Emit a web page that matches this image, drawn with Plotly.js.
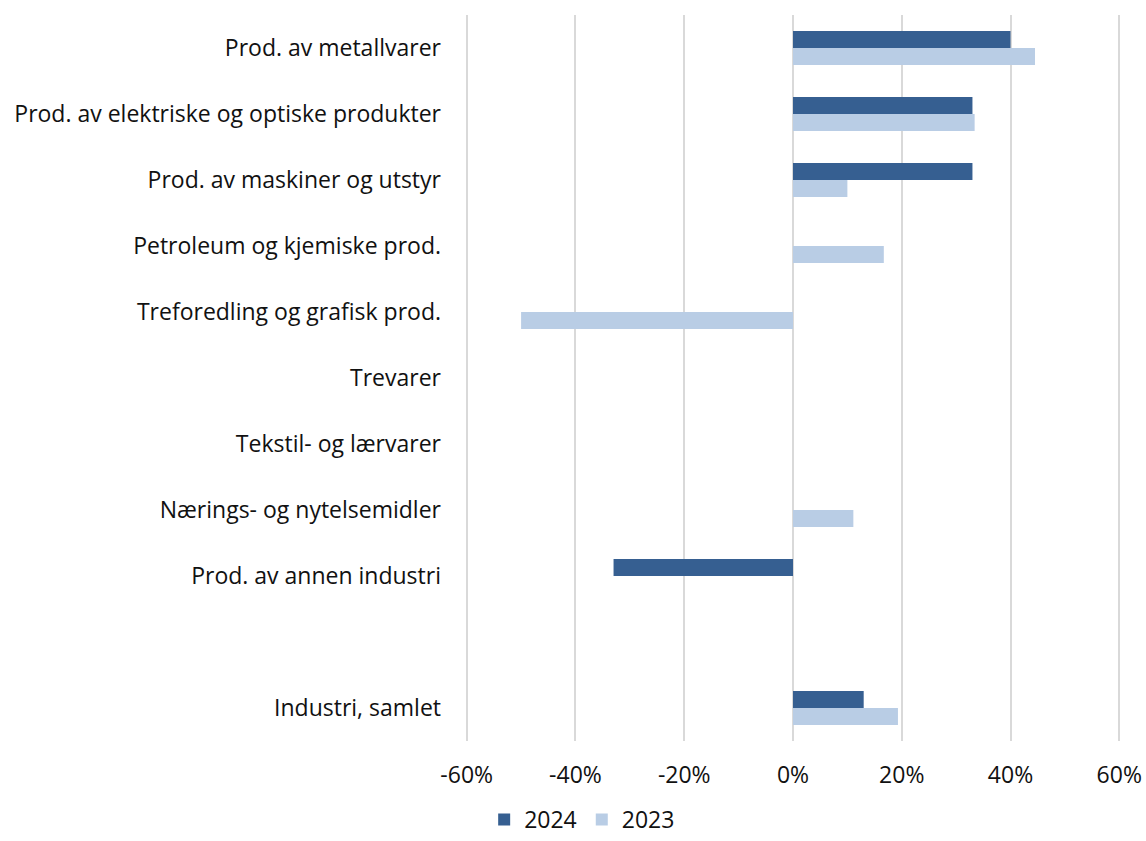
<!DOCTYPE html>
<html>
<head>
<meta charset="utf-8">
<script src="https://cdn.plot.ly/plotly-3.0.1.min.js"></script>
<style>html,body{margin:0;padding:0;background:#fff;}#chart{width:1146px;height:841px;}</style>
</head>
<body>
<div id="chart"></div>
<script>
const categories = [
  "Prod. av metallvarer",
  "Prod. av elektriske og optiske produkter",
  "Prod. av maskiner og utstyr",
  "Petroleum og kjemiske prod.",
  "Treforedling og grafisk prod.",
  "Trevarer",
  "Tekstil- og lærvarer",
  "Nærings- og nytelsemidler",
  "Prod. av annen industri",
  " ",
  "Industri, samlet"
];
const values2024 = [0.40, 0.33, 0.33, 0, null, null, null, 0, -0.33, null, 0.13];
const values2023 = [0.445, 0.334, 0.10, 0.167, -0.50, null, null, 0.111, 0, null, 0.193];
const tickValues = [-0.6, -0.4, -0.2, 0, 0.2, 0.4, 0.6];
const tickLabels = ["-60%", "-40%", "-20%", "0%", "20%", "40%", "60%"];

const fontFam = "'Open Sans', Lato, sans-serif";
const traces = [
  {type: "bar", orientation: "h", name: "2024", y: categories, x: values2024,
   marker: {color: "#365F91"}, hoverinfo: "x+y"},
  {type: "bar", orientation: "h", name: "2023", y: categories, x: values2023,
   marker: {color: "#B9CDE5"}, hoverinfo: "x+y"}
];
const layout = {
  width: 1146, height: 841,
  margin: {l: 464, r: 24, t: 15, b: 100},
  paper_bgcolor: "#fff", plot_bgcolor: "#fff",
  barmode: "group", bargap: 0.485, bargroupgap: 0,
  font: {family: fontFam, size: 23, color: "#111"},
  showlegend: true,
  legend: {orientation: "h", xref: "container", yref: "container", x: 0.508, y: 0.0,
           xanchor: "center", yanchor: "bottom", font: {size: 23, color: "#111"},
           traceorder: "normal"},
  xaxis: {range: [-0.605, 0.605], tickvals: tickValues, ticktext: tickLabels,
          showgrid: true, gridcolor: "#d9d9d9", gridwidth: 2,
          zeroline: true, zerolinecolor: "#d9d9d9", zerolinewidth: 2,
          showline: false, ticks: "", ticklabelstandoff: 18, fixedrange: true},
  yaxis: {type: "category", categoryorder: "array", categoryarray: categories,
          autorange: "reversed", showgrid: false, zeroline: false, showline: false,
          ticks: "", ticklabelstandoff: 22, fixedrange: true}
};
Plotly.newPlot("chart", traces, layout, {displayModeBar: false, staticPlot: true});
</script>
</body>
</html>
